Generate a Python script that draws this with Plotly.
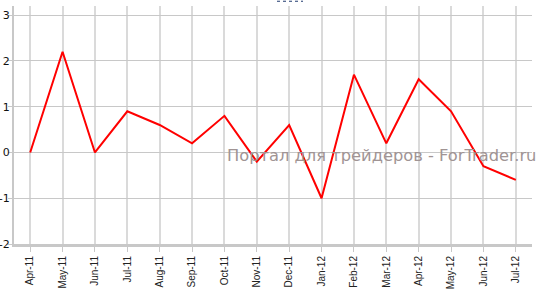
import plotly.graph_objects as go

months = ["Apr-11", "May-11", "Jun-11", "Jul-11", "Aug-11", "Sep-11", "Oct-11", "Nov-11",
          "Dec-11", "Jan-12", "Feb-12", "Mar-12", "Apr-12", "May-12", "Jun-12", "Jul-12"]
values = [0.0, 2.2, 0.0, 0.9, 0.6, 0.2, 0.8, -0.2, 0.6, -1.0, 1.7, 0.2, 1.6, 0.9, -0.3, -0.6]
y_ticks = [-2, -1, 0, 1, 2, 3]
y_tick_labels = ["-2", "-1", "0", "1", "2", "3"]
watermark = "Портал для трейдеров - ForTrader.ru"

fig = go.Figure()
fig.add_trace(go.Scatter(
    x=list(range(len(months))), y=values, mode="lines",
    line=dict(color="#ff0000", width=2), hoverinfo="skip", showlegend=False,
))

fig.update_layout(
    width=543, height=290,
    margin=dict(l=14, r=11, t=6, b=46, autoexpand=False),
    paper_bgcolor="white", plot_bgcolor="white",
    xaxis=dict(
        range=[-0.5, len(months) - 0.5],
        tickvals=list(range(len(months))), ticktext=months,
        tickangle=-90, tickfont=dict(family="Liberation Sans, Arial", size=10, color="#222"),
        showgrid=True, gridcolor="#dadada", gridwidth=1.5,
        showline=True, linecolor="#c8c8c8", linewidth=3,
        ticks="outside", ticklen=5, tickcolor="#c8c8c8", tickwidth=1,
        zeroline=False, fixedrange=True, automargin=False,
    ),
    yaxis=dict(
        range=[-2, 3.2], tickvals=y_ticks, ticktext=y_tick_labels,
        tickfont=dict(family="DejaVu Sans, Verdana", size=11, color="#111"),
        showgrid=True, gridcolor="#c8c8c8", gridwidth=1,
        showline=True, linecolor="#c8c8c8", linewidth=2,
        ticks="outside", ticklen=4, tickcolor="#c8c8c8", tickwidth=1,
        ticklabelstandoff=-4,
        zeroline=False, fixedrange=True, automargin=False,
    ),
    annotations=[dict(
        text=watermark, xref="paper", yref="paper",
        x=1.012, y=0.372, xanchor="right", yanchor="middle", showarrow=False,
        font=dict(family="DejaVu Sans, Verdana", size=16.3, color="#a09494"),
    )],
    shapes=[dict(
        type="line", xref="paper", yref="paper",
        x0=(277 - 14) / 518, x1=(303 - 14) / 518, y0=1.02, y1=1.02,
        line=dict(color="#1f3a6e", width=1, dash="dot"),
    )],
)

fig.write_html("out.html", config=dict(displayModeBar=False))
